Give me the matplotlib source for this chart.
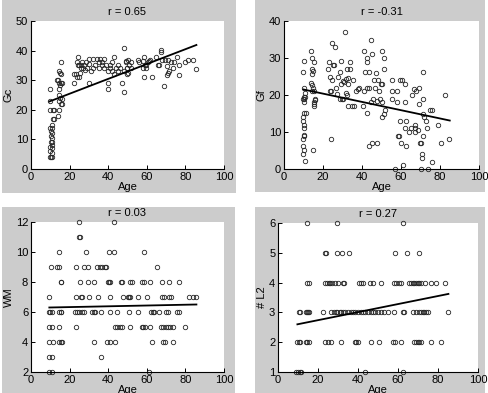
import matplotlib
matplotlib.use("Agg")
import matplotlib.pyplot as plt
from matplotlib.patches import Rectangle

plt.rcParams['font.family'] = ['Liberation Sans', 'DejaVu Sans']
plt.rcParams['font.size'] = 8

# Gc vs Age
gc_age = [10, 10, 10, 10, 10.5, 10.5, 10.5, 10, 10, 10.5, 10,
          11.5, 11.5, 11, 11, 11, 10.8, 10.8, 11, 10.8, 10.8, 11, 12, 12,
          13.5, 14, 14.5, 15, 14.5, 15.5, 14.5, 14.5, 15, 14.5, 15.5, 14.5, 14, 15.5, 15, 16, 15.5, 16, 16,
          22.5, 22.5, 23.5, 24.5, 23.7, 24.2, 25, 26, 26.5, 27, 27.5, 25, 24, 30, 30, 30, 25.5, 28, 29, 26, 28.5,
          31, 32, 32, 33, 34, 35, 35, 36, 37, 37, 38, 38, 39, 40, 40, 40, 41, 41, 42, 42, 43, 43, 44, 45, 45,
          46, 47, 48, 48, 48, 49, 50, 50,
          49.3, 50.5, 51, 49.8, 50.5, 51.9, 51.9, 55.3, 55.7, 57.9, 58.8, 59.1, 59.6, 60.5, 61.3, 57.9, 59.6,
          58.8, 62.5, 61.8, 64.8, 65.6, 66.5, 67.4, 67.4, 67.7, 69.2, 70.8, 70.5, 71.3, 70.8, 70.5, 68.7,
          72.5, 73.9, 73.4, 75.6, 76.5, 76.5, 79.7, 81.6, 83.7, 85.4]
gc_val = [27, 23, 20, 14, 13, 11, 9, 7.5, 6, 4, 4,
          20, 17, 15, 14, 12, 10.5, 9, 8, 7, 5.5, 4, 20, 17,
          30, 30, 33, 32.5, 29, 29, 27, 25, 24, 23, 22, 20, 18, 36, 28.5, 29, 32, 23.5, 22,
          29, 32, 32, 38, 36, 35, 35, 34, 36, 34, 35, 31, 31, 37, 35.5, 29, 32.5, 33.5, 34, 35, 36,
          33, 37, 34, 35, 37, 36, 34, 37, 35, 36, 37, 34, 35, 29, 27, 33, 35, 34, 36, 33, 38, 32, 34, 33, 35,
          34, 29, 41, 26, 33, 36, 34, 32,
          36.4, 36.9, 35.2, 34.1, 32.4, 36, 34.1, 36.9, 36, 36.4, 38, 35.2, 35.2, 36, 36.6, 34.1, 34.1,
          31, 31, 36.9, 37.7, 35.2, 35.2, 40.1, 39.4, 36.9, 36.9, 36.9, 34.7, 33, 32.4, 31.9, 27.9,
          36, 36, 34.1, 38, 35.2, 31.9, 36.1, 36.9, 36.9, 33.9]
gc_fit_age = [9.5, 85.7]
gc_fit_val = [22.8, 41.9]

# Gf vs Age
gf_age = [9.6, 10.3, 10, 9.5, 10.8, 10, 10.5, 10.8, 10.5, 11.3, 9.5, 9.5, 10, 10.3, 10, 10.5, 9.5, 10, 9.5, 11, 10.4, 9.8,
          13.6, 14.5, 15.3, 14.5, 15, 14.5, 14, 14.5, 15, 15.3, 14.5, 15.8, 15.3, 15.3, 15.3, 14.8, 15.8,
          22.4, 23.2, 24.4, 26.1, 25.3, 25.8, 23.5, 24.4, 23.7, 24.2, 29.4, 28.8, 27.6, 30.2, 29, 31.1, 32.2, 32,
          32.8, 31, 33.7, 26.5, 27, 28.5, 29.5, 30.5, 32, 32.5, 33, 35, 36, 37, 38, 38.5, 24, 35.5, 33, 34,
          41, 42.4, 42.4, 41.5, 43.5, 42.5, 43.6, 41, 40.5, 42.4, 43.6, 45.3, 47.5, 44.7, 45, 46, 47, 46.5, 48,
          48.5, 45.5, 47.5, 49, 44.5, 49.5,
          50.3, 51.3, 51.3, 50.3, 50.3, 51.7, 51.3, 50.3, 55.4, 59.3, 55.4, 58.1, 55.4, 58.1, 57.1, 59.5, 58.5,
          59.2, 60, 60.4, 62.2, 62.2, 62.6, 62, 65, 64, 62.6, 61,
          71.3, 66.5, 67.5, 69, 65.5, 71.3, 69, 71.3, 72, 73, 75, 76, 67.4, 67.4, 67.4, 71.3, 69.5, 70.3, 71, 71,
          76, 70.1, 73.8, 82.7, 78.8, 80.7, 84.5, 73.5, 68.5]
gf_val = [26.2, 22, 19.4, 19, 19.4, 18.8, 18.2, 20.5, 15.1, 15.1, 14, 12.9, 12, 11, 9.3, 9, 6.3, 5.2, 4.1, 2.1, 29.1, 8.2,
          32, 30, 29, 27.1, 26.4, 25.7, 23.2, 22.8, 22, 21.2, 21.2, 18.7, 18, 17.6, 16.9, 5.2, 19,
          27.1, 29, 34, 33, 28, 28, 25, 24.1, 21.2, 21.2, 29.1, 26.1, 25, 23.9, 23, 37, 27, 24.3,
          23, 23.5, 29, 22, 20.2, 19, 19, 19, 20.5, 20, 17, 17, 17, 21, 21.5, 22, 8, 24, 24.5, 27,
          32, 30, 29, 26.2, 26.2, 22, 22, 21, 17, 15.1, 6.3, 7, 7, 35, 31, 24, 26, 22, 24,
          21, 19, 18.5, 19, 18, 23,
          32, 30, 27, 23, 18, 16, 15, 14, 24.1, 24.1, 21.2, 21.2, 19, 18, 0, 13, 9,
          9, 7, 24, 23, 18, 13, 11, 11, 10, 6.1, 1.2,
          26.1, 21.5, 21.2, 22, 20, 19, 17.5, 15, 14, 13, 16, 16, 12, 11, 10, 9, 7, 7, 4, 3,
          2, 0, 0, 20, 12, 7, 8, 11, 10.5]
gf_fit_age = [9.9, 85]
gf_fit_val = [21.5, 13.1]

# WM vs Age
wm_age = [24.7, 42.8,
          25, 25.6,
          14.4, 28.7, 40.4, 42.8, 58.8,
          10.3, 13.6, 14.4, 23.5, 27.3, 29.6, 34.2, 35.6, 36.8, 38.1, 38.7, 65.5,
          15.3, 15.6, 25.6, 29.6, 32.6, 39.9, 40.4, 41.1, 46.7, 47.3, 51.5, 52.4, 57.6, 58.8, 61.7, 67.7, 71.6, 76.5,
          9.5, 23.5, 26.1, 26.6, 30, 34.7, 40.7, 47.6, 50.2, 51, 51.5, 55.3, 60, 67.7, 69, 71.6, 72.5, 82, 83.7, 85.7,
          9.5, 10.1, 10.7, 14.6, 15.3, 15.8, 22.7, 23.9, 24.7, 26.6, 27.3, 31.8, 32.5, 33, 36.4, 40.7, 44.5, 51,
          55.3, 62.2, 63, 63.9, 66.5, 70, 70.8, 75.9, 76.8,
          9.5, 10.7, 14.6, 23.5, 43.3, 44.5, 45.9, 47.3, 51.4, 57.6, 58.2, 59.3, 61.7, 67.4, 68.2, 70, 70.8, 72,
          73.4, 79.7,
          9.5, 11.5, 14.6, 15.3, 16, 32.6, 39.3, 40.7, 43.6, 62.7, 68.2, 69.4, 73.4,
          9.5, 10.7, 36.4,
          9.5, 10.7, 61.3]
wm_val = [12, 12,
          11, 11,
          10, 10, 10, 10, 10,
          9, 9, 9, 9, 9, 9, 9, 9, 9, 9, 9, 9,
          8, 8, 8, 8, 8, 8, 8, 8, 8, 8, 8, 8, 8, 8, 8, 8, 8, 8,
          7, 7, 7, 7, 7, 7, 7, 7, 7, 7, 7, 7, 7, 7, 7, 7, 7, 7, 7, 7,
          6, 6, 6, 6, 6, 6, 6, 6, 6, 6, 6, 6, 6, 6, 6, 6, 6, 6,
          6, 6, 6, 6, 6, 6, 6, 6, 6,
          5, 5, 5, 5, 5, 5, 5, 5, 5, 5, 5, 5, 5, 5, 5, 5, 5, 5,
          5, 5,
          4, 4, 4, 4, 4, 4, 4, 4, 4, 4, 4, 4, 4,
          3, 3, 3,
          2, 2, 2]
wm_fit_age = [9.5, 85.7]
wm_fit_val = [6.3, 6.5]

# # L2 vs Age
l2_age = [14.7, 29.7, 62.35,
          23.4, 24.2, 29.5, 32.2, 35.3, 58.5, 64.5, 70.35,
          14.7, 15.5, 23.4, 24.4, 25.3, 26, 27, 28.4, 30, 32.5, 33, 40.4, 41.4, 42.5, 45.8, 47.5, 51.5, 58.2,
          59, 60.5, 61.5, 65.7, 66.5, 67.3, 68.2, 69, 69.8, 70.6, 71.5, 73.5, 76.5, 79, 83.5,
          10.4, 10.9, 13.9, 14.5, 15, 15.5, 22.5, 26.7, 28, 28.8, 29.7, 30.8, 31.7, 32.5, 33.7, 35, 36.3, 37.5,
          38.7, 40, 41.3, 42.5, 43.7, 45, 46.3, 47.5, 48.7, 50, 51.5, 53.2, 55.2, 58.2, 62.35, 63.2, 67.35, 69,
          70.7, 71.5, 72.3, 73.2, 74, 75.2, 85.2,
          9.7, 10.4, 10.9, 14.2, 14.7, 15.5, 23.4, 25, 26.7, 31.7, 38.4, 39.2, 40, 46.7, 50.3, 57.35, 58.5,
          61.5, 68.2, 69, 69.8, 70.6, 71.5, 76.5, 81.5,
          9.2, 10, 10.9, 11.7, 43.7, 62.35]
l2_val = [6, 6, 6,
          5, 5, 5, 5, 5, 5, 5, 5,
          4, 4, 4, 4, 4, 4, 4, 4, 4, 4, 4, 4, 4, 4, 4, 4, 4, 4,
          4, 4, 4, 4, 4, 4, 4, 4, 4, 4, 4, 4, 4, 4, 4,
          3, 3, 3, 3, 3, 3, 3, 3, 3, 3, 3, 3, 3, 3, 3, 3, 3, 3,
          3, 3, 3, 3, 3, 3, 3, 3, 3, 3, 3, 3, 3, 3, 3, 3, 3, 3,
          3, 3, 3, 3, 3, 3, 3,
          2, 2, 2, 2, 2, 2, 2, 2, 2, 2, 2, 2, 2, 2, 2, 2, 2,
          2, 2, 2, 2, 2, 2, 2, 2,
          1, 1, 1, 1, 1, 1]
l2_fit_age = [9.7, 85.2]
l2_fit_val = [2.6, 3.62]

W, H = 489, 393
fig = plt.figure(figsize=(W / 100, H / 100), dpi=100, facecolor='white')


def px_rect(x0, y0, x1, y1):
    # pixel box (top-left origin) -> figure fraction [left, bottom, width, height]
    return [x0 / W, 1 - y1 / H, (x1 - x0) / W, (y1 - y0) / H]


# grey MATLAB figure backgrounds, drawn below the axes
for box in [(2, 0, 236, 193), (255, 0, 485, 192), (2, 207, 235, 393), (255, 207, 485, 393)]:
    l, b, w, h = px_rect(*box)
    fig.patches.append(Rectangle((l, b), w, h, transform=fig.transFigure,
                                 facecolor='#cccccc', edgecolor='none', zorder=-10))

panels = [
    (gc_age, gc_val, gc_fit_age, gc_fit_val, 'Gc', 'r = 0.65', (0, 50), range(0, 51, 10), (31, 21, 224, 169)),
    (gf_age, gf_val, gf_fit_age, gf_fit_val, 'Gf', 'r = -0.31', (0, 40), range(0, 41, 10), (284, 21, 479, 169)),
    (wm_age, wm_val, wm_fit_age, wm_fit_val, 'WM', 'r = 0.03', (2, 12), range(2, 13, 2), (31, 222, 224, 372)),
    (l2_age, l2_val, l2_fit_age, l2_fit_val, '# L2', 'r = 0.27', (1, 6), range(1, 7), (278, 223, 478, 372)),
]

for age, val, fa, fv, ylab, title, ylim, yticks, box in panels:
    ax = fig.add_axes(px_rect(*box))
    ax.set_zorder(1)
    ax.set_facecolor('white')
    ax.plot(age, val, 'o', ms=3.2, mfc='none', mec='0.15', mew=0.6, clip_on=False)
    ax.plot(fa, fv, '-', color='black', lw=1.3)
    ax.set_xlim(0, 100)
    ax.set_ylim(*ylim)
    ax.set_xticks(range(0, 101, 20))
    ax.set_yticks(list(yticks))
    ax.set_xlabel('Age', labelpad=0)
    ax.set_ylabel(ylab, labelpad=1.5)
    ax.set_title(title, fontsize=8, pad=4)
    ax.spines['top'].set_visible(False)
    ax.spines['right'].set_visible(False)
    for s in ('left', 'bottom'):
        ax.spines[s].set_linewidth(0.8)
    ax.tick_params(direction='in', length=3, width=0.7, labelsize=8, pad=2)

fig.savefig('out.png', dpi=100, facecolor='white')
